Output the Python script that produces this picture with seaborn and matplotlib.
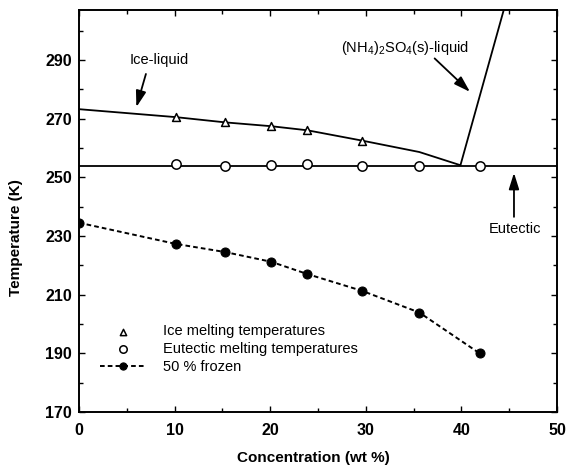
import numpy as np
import pandas as pd
import seaborn as sns
import matplotlib
matplotlib.use("Agg")
import matplotlib.pyplot as plt
from matplotlib.ticker import MultipleLocator

# measured points
conc_ice = [10.1, 15.3, 20.1, 23.9, 29.6]
temp_ice = [270.5, 268.7, 267.4, 266.0, 262.5]

conc_eut = [10.1, 15.3, 20.1, 23.9, 29.6, 35.6, 41.9]
temp_eut = [254.4, 254.0, 254.3, 254.5, 253.7, 253.7, 254.0]

conc_frozen = [0, 10.1, 15.3, 20.1, 23.9, 29.6, 35.6, 41.9]
temp_frozen = [234.5, 227.3, 224.5, 221.2, 217.0, 211.3, 203.9, 190.0]

# phase boundaries
conc_liquidus = [0, 10.1, 15.3, 20.1, 23.9, 29.6, 35.6, 39.9]
temp_liquidus = [273.2, 270.5, 268.7, 267.4, 266.0, 262.5, 258.6, 254.1]

conc_salt = [39.9, 44.6]
temp_salt = [254.1, 309.0]

conc_eutectic_line = [0, 50]
temp_eutectic_line = [254.0, 254.0]

sns.set_style("ticks")
plt.rcParams['font.family'] = ['Liberation Sans', 'DejaVu Sans']
plt.rcParams['mathtext.fontset'] = 'custom'
plt.rcParams['mathtext.rm'] = 'Liberation Sans'
plt.rcParams['mathtext.it'] = 'Liberation Sans'
for key in ['text.color', 'axes.labelcolor', 'xtick.color', 'ytick.color', 'axes.edgecolor']:
    plt.rcParams[key] = 'black'

fig = plt.figure(figsize=(5.67, 4.72), dpi=100)
ax = fig.add_axes([79 / 567, 1 - 412 / 472, 478 / 567, 402 / 472])

sns.lineplot(x=conc_liquidus, y=temp_liquidus, color='black', lw=1.3, sort=False, ax=ax)
sns.lineplot(x=conc_salt, y=temp_salt, color='black', lw=1.3, sort=False, ax=ax)
sns.lineplot(x=conc_eutectic_line, y=temp_eutectic_line, color='black', lw=1.3, sort=False, ax=ax)

sns.scatterplot(x=conc_ice, y=temp_ice, marker='^', s=32, color='white', edgecolor='black',
                linewidth=1.1, zorder=3, label='Ice melting temperatures', ax=ax)
sns.scatterplot(x=conc_eut, y=temp_eut, marker='o', s=45, color='white', edgecolor='black',
                linewidth=1.1, zorder=3, label='Eutectic melting temperatures', ax=ax)
sns.lineplot(x=conc_frozen, y=temp_frozen, color='black', lw=1.4, linestyle=(0, (2.4, 1.6)),
             marker='o', markersize=6.5, markeredgecolor='black', sort=False,
             label='50 % frozen', ax=ax)

ax.set_xlim(0, 50)
ax.set_ylim(170, 307)
ax.xaxis.set_major_locator(MultipleLocator(10))
ax.xaxis.set_minor_locator(MultipleLocator(5))
ax.set_yticks([170, 190, 210, 230, 250, 270, 290])
ax.yaxis.set_minor_locator(MultipleLocator(10))
ax.tick_params(which='both', direction='in', top=True, right=True, width=1.0, color='black',
               labelcolor='black')
ax.tick_params(which='major', length=4, labelsize=11.5)
ax.tick_params(which='minor', length=3)
ax.tick_params(axis='x', pad=8)
ax.tick_params(axis='y', pad=5)
for lab in ax.get_xticklabels() + ax.get_yticklabels():
    lab.set_fontweight('bold')
for sp in ax.spines.values():
    sp.set_linewidth(1.4)
    sp.set_color('black')

ax.set_xlabel('Concentration (wt %)', fontsize=11, fontweight='bold', color='black')
ax.set_ylabel('Temperature (K)', fontsize=11, fontweight='bold', color='black')
ax.xaxis.set_label_coords(0.49, -0.098)
ax.yaxis.set_label_coords(-0.118, 0.433)

arrow = dict(arrowstyle='-|>,head_length=0.7,head_width=0.22', color='black', lw=1.3,
             mutation_scale=14, shrinkA=0, shrinkB=0)
ax.text(8.4, 290, 'Ice-liquid', fontsize=10.5, ha='center', va='center', color='black')
ax.annotate('', xy=(6.0, 273.9), xytext=(7.0, 285.2), arrowprops=arrow)
ax.text(34.1, 294.0, '(NH$_4$)$_2$SO$_4$(s)-liquid', fontsize=10.5, ha='center', va='center',
        color='black')
ax.annotate('', xy=(40.9, 279.1), xytext=(37.2, 290.5), arrowprops=arrow)
ax.text(45.6, 232.5, 'Eutectic', fontsize=10.5, ha='center', va='center', color='black')
ax.annotate('', xy=(45.5, 251.5), xytext=(45.5, 236.5), arrowprops=arrow)

handles, labels = ax.get_legend_handles_labels()
order = ['Ice melting temperatures', 'Eutectic melting temperatures', '50 % frozen']
hmap = dict(zip(labels, handles))
leg = ax.legend([hmap[k] for k in order], order, loc='upper left', bbox_to_anchor=(0.0435, 0.218),
                frameon=False, fontsize=10.5, handlelength=3.2, handletextpad=1.1,
                labelspacing=0.25, borderpad=0, borderaxespad=0, markerscale=0.8)
for t in leg.get_texts():
    t.set_color('black')

fig.savefig('out.png', dpi=100)
